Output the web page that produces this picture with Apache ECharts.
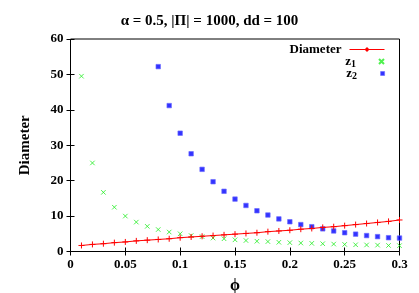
<!DOCTYPE html>
<html><head><meta charset="utf-8">
<script src="https://cdn.jsdelivr.net/npm/echarts@6/dist/echarts.min.js"></script>
<style>html,body{margin:0;padding:0;background:#fff}#c{width:419px;height:293px}</style>
</head><body><div id="c"></div>
<script>
const phi = [0.01,0.02,0.03,0.04,0.05,0.06,0.07,0.08,0.09,0.10,0.11,0.12,0.13,0.14,0.15,0.16,0.17,0.18,0.19,0.20,0.21,0.22,0.23,0.24,0.25,0.26,0.27,0.28,0.29,0.30];
const diameter = [1.7,2.0,2.2,2.5,2.7,3.0,3.2,3.4,3.6,3.9,4.1,4.3,4.5,4.7,4.9,5.1,5.3,5.6,5.8,6.0,6.3,6.5,6.8,7.0,7.3,7.6,7.9,8.2,8.5,8.9];
const z1 = [49.5,25,16.7,12.5,10,8.3,7.1,6.2,5.5,5.0,4.5,4.2,3.8,3.6,3.3,3.1,2.9,2.8,2.6,2.5,2.4,2.3,2.2,2.1,2.0,1.9,1.85,1.8,1.7,1.65];
const z2phi = [0.08,0.09,0.10,0.11,0.12,0.13,0.14,0.15,0.16,0.17,0.18,0.19,0.20,0.21,0.22,0.23,0.24,0.25,0.26,0.27,0.28,0.29,0.30];
const z2 = [52.2,41.2,33.4,27.6,23.2,19.7,17.0,14.8,13.0,11.5,10.3,9.2,8.4,7.6,7.0,6.4,5.8,5.3,4.9,4.5,4.2,3.9,3.8];
const xTicks = [0,0.05,0.1,0.15,0.2,0.25,0.3];
const yTicks = [0,10,20,30,40,50,60];

const F = 'Liberation Serif, Times New Roman, serif';
const plus = 'path://M0,5L10,5M5,0L5,10';
const cross = 'path://M0,0L10,10M10,0L0,10';
const square = 'path://M0,0L10,0L10,10L0,10Z';
const pair = (xs, ys) => xs.map((x,i)=>[x, ys[i]]);
const axisCommon = {
  axisLine:{show:false}, splitLine:{show:false},
  axisTick:{inside:true,length:4,lineStyle:{color:'#000'}}
};
const legendBase = {
  orient:'vertical', align:'right', right:34, itemWidth:35, itemHeight:5, padding:0,
  textStyle:{fontFamily:F,fontWeight:'bold',fontSize:13,color:'#000',padding:[0,3,0,0],
    rich:{s:{fontFamily:F,fontWeight:'bold',fontSize:10,color:'#000',verticalAlign:'bottom',padding:[6,0,0,0]}}},
  formatter: n => n==='Diameter' ? 'Diameter' : (n==='z1' ? 'z{s|1}' : 'z{s|2}'),
  selectedMode:false
};
const chart = echarts.init(document.getElementById('c'), null, {renderer:'canvas'});
chart.setOption({
  animation:false,
  title:{text:'\u03b1 = 0.5, |\u03a0| = 1000, dd = 100', left:'center', top:9,
    textStyle:{fontFamily:F,fontWeight:'bold',fontSize:15,color:'#000'}},
  grid:{left:70.5, right:19.5, top:39, bottom:41.5, show:true, borderColor:'#000', borderWidth:1,
    containLabel:false, outerBoundsMode:'none'},
  legend:[
    Object.assign({}, legendBase, {top:43, lineStyle:{width:1}, data:[{name:'Diameter'}]}),
    Object.assign({}, legendBase, {top:55, data:[{name:'z1', icon:cross}]}),
    Object.assign({}, legendBase, {top:67, itemHeight:4, data:[{name:'z2', icon:square, itemStyle:{color:'#0000ff',borderColor:'#6a6aff',borderWidth:0.8}}]})
  ],
  xAxis:[
    Object.assign({type:'value', min:0, max:0.3, interval:0.05, name:'\u03d5', nameLocation:'middle', nameGap:26,
      nameTextStyle:{fontFamily:F,fontWeight:'bold',fontSize:16,color:'#000'},
      axisLabel:{fontFamily:F,fontWeight:'bold',fontSize:13,color:'#000',margin:7,
        formatter:v=>{const t=xTicks.find(k=>Math.abs(k-v)<1e-9);return t===undefined?'':String(t);}}}, axisCommon),
    Object.assign({type:'value', min:0, max:0.3, interval:0.05, position:'top', axisLabel:{show:false}}, axisCommon)
  ],
  yAxis:[
    Object.assign({type:'value', min:0, max:60, interval:10, name:'Diameter', nameLocation:'middle', nameGap:38,
      nameTextStyle:{fontFamily:F,fontWeight:'bold',fontSize:15,color:'#000'},
      axisLabel:{fontFamily:F,fontWeight:'bold',fontSize:13,color:'#000',margin:7,
        formatter:v=>yTicks.includes(v)?String(v):''}}, axisCommon),
    Object.assign({type:'value', min:0, max:60, interval:10, position:'right', axisLabel:{show:false}}, axisCommon)
  ],
  series:[
    {name:'Diameter', type:'line', data:pair(phi, diameter), symbol:plus, symbolSize:6, showSymbol:true,
      lineStyle:{color:'#ff0000',width:1}, itemStyle:{color:'transparent',borderColor:'#ff0000',borderWidth:1}, color:'#ff0000'},
    {name:'z1', type:'scatter', data:pair(phi, z1), symbol:cross, symbolSize:4.5,
      itemStyle:{color:'transparent',borderColor:'#22ee22',borderWidth:1}},
    {name:'z2', type:'scatter', data:pair(z2phi, z2), symbol:square, symbolSize:4.5,
      itemStyle:{color:'#0000ff',borderColor:'#6a6aff',borderWidth:0.8}}
  ]
});
</script></body></html>
